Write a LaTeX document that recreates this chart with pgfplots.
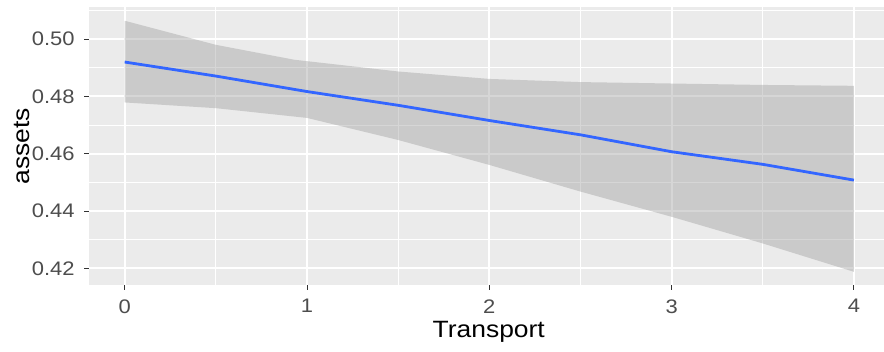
\documentclass[border=0pt]{standalone}
\usepackage{pgfplots}
\pgfplotsset{compat=1.18}
\usepackage{fontspec}
\setmainfont{Liberation Sans}[FakeStretch=1.12]

\definecolor{panel}{HTML}{EBEBEB}
\definecolor{ribbon}{HTML}{999999}
\definecolor{fitblue}{HTML}{3366FF}
\definecolor{ticktext}{HTML}{4D4D4D}
\definecolor{tickmark}{HTML}{333333}

\begin{document}
\begin{tikzpicture}
\useasboundingbox (0,0) rectangle (442pt,176pt);
\begin{axis}[
  at={(44.5pt,33.5pt)}, anchor=south west,
  scale only axis,
  width=397.5pt, height=139pt,
  xmin=-0.1958, xmax=4.165,
  ymin=0.4142, ymax=0.5112,
  axis background/.style={fill=panel},
  axis line style={draw=none},
  xtick={0,1,2,3,4},
  ytick={0.42,0.44,0.46,0.48,0.50},
  minor xtick={0.5,1.5,2.5,3.5},
  minor ytick={0.43,0.45,0.47,0.49,0.51},
  yticklabels={0.42,0.44,0.46,0.48,0.50},
  xticklabels={0,1,2,3,4},
  tick pos=left,
  tick align=outside,
  major tick length=2.5pt,
  minor tick length=0pt,
  tick style={color=tickmark, line width=0.5pt},
  grid=both,
  major grid style={white, line width=1pt},
  minor grid style={white, line width=0.5pt},
  ticklabel style={font=\fontsize{9.8}{11}\selectfont, text=ticktext},
  /pgf/number format/assume math mode=true,
  xticklabel style={anchor=north, yshift=-1.2pt},
  yticklabel style={anchor=east, xshift=-1.2pt},
  xlabel={Transport},
  ylabel={assets},
  label style={font=\fontsize{11.8}{13}\selectfont, text=black},
  xlabel style={at={(axis description cs:0.5028,-0.168)}, anchor=center},
  ylabel style={at={(axis description cs:-0.0847,0.5)}, anchor=center, rotate=0},
]
% confidence band around the smoother
\addplot[draw=none, fill=ribbon, fill opacity=0.4] coordinates {
  (0,0.5064) (0.5,0.4980) (0.93,0.4928) (1.5,0.4887) (2,0.4861)
  (2.5,0.4850) (3,0.4845) (3.5,0.4840) (4,0.4837)
  (4,0.4188) (3.5,0.4287) (3,0.4380) (2.5,0.4468) (2,0.4561)
  (1.5,0.4648) (1,0.4725) (0.5,0.4759) (0,0.4779)
} -- cycle;
% fitted line
\addplot[fitblue, line width=1.4pt] coordinates {
  (0,0.4920) (0.5,0.4871) (1,0.4817) (1.5,0.4769) (2,0.4716)
  (2.5,0.4666) (3,0.4607) (3.5,0.4563) (4,0.4508)
};
\end{axis}
\end{tikzpicture}
\end{document}
